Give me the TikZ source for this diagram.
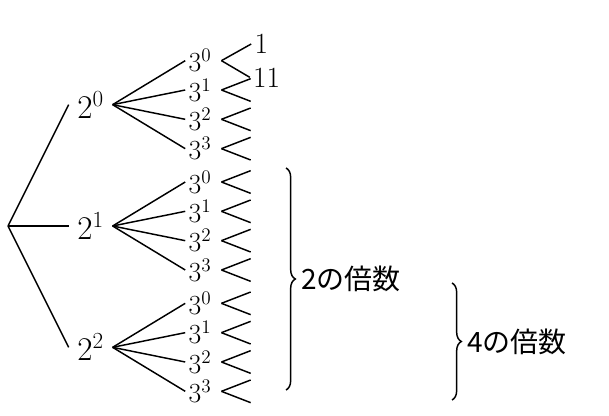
\documentclass[tikz,border=0pt]{standalone}
\usepackage{fontspec}
\usepackage{amsmath}
\usetikzlibrary{decorations.pathreplacing}
\newfontfamily\jpfont{Noto Sans CJK JP}

\begin{document}
\begin{tikzpicture}[x=0.75pt,y=-0.75pt,line width=1.1pt,grow'=right,
  every node/.style={font=\fontsize{22}{26}\selectfont,inner sep=2pt},
  parent anchor=east,child anchor=west,
  level 1/.style={level distance=62pt,sibling distance=91pt},
  level 2/.style={level distance=82pt,sibling distance=22pt},
  level 3/.style={level distance=38pt,sibling distance=17pt,
    edge from parent path={([xshift=5pt]\tikzparentnode\tikzparentanchor) -- (\tikzchildnode\tikzchildanchor)}},
  brace/.style={decorate,decoration={brace,amplitude=7pt}},
  jp/.style={font=\jpfont\fontsize{21}{25}\selectfont}]
\useasboundingbox (0,0) rectangle (609,416);
\path (8,226) coordinate (r)
    child {node[inner xsep=6pt,font=\fontsize{25}{30}\selectfont] {$2^0$}
        child {node {$3^0$}
            child[level distance=46pt,sibling distance=25pt] {node {1}}
            child[level distance=50pt,sibling distance=25pt] {node {11}}
        }
        child foreach \k in {1,2,3} {node {$3^\k$}
            child foreach \j in {1,2} {coordinate}
        }
    }
    child {node[inner xsep=6pt,font=\fontsize{25}{30}\selectfont] {$2^1$}
        child foreach \k in {0,...,3} {node {$3^\k$}
            child foreach \j in {1,2} {coordinate}
        }
    }
    child {node[inner xsep=6pt,font=\fontsize{25}{30}\selectfont] {$2^2$}
        child foreach \k in {0,...,3} {node {$3^\k$}
            child foreach \j in {1,2} {coordinate}
        }
    };
\draw[brace] (286,168) -- (286,390) node[midway,right=9pt,jp] (m2) {2の倍数};
\draw[brace] (452,283) -- (452,400) node[midway,right=9pt,jp] (m4) {4の倍数};
\end{tikzpicture}
\end{document}
